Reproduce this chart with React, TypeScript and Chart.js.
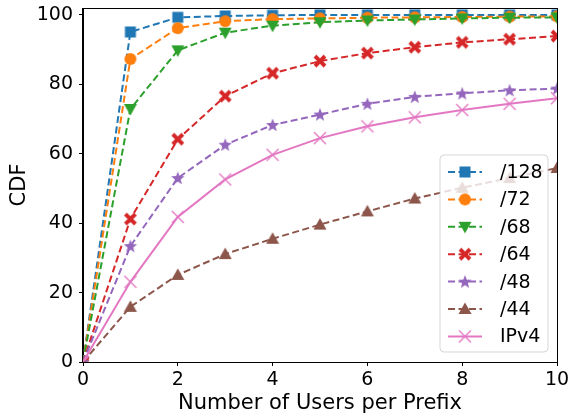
import React, { useEffect, useRef } from "react";
import { Chart, registerables } from "chart.js";

Chart.register(...registerables);

// Number of users per prefix (x) and cumulative share (%) per aggregation level
const users = [0, 1, 2, 3, 4, 5, 6, 7, 8, 9, 10];
const cdf128 = [0, 95.1, 99.3, 99.7, 99.9, 100, 100, 100, 100, 100, 100];
const cdf72 = [0, 87.3, 96.2, 98.2, 98.8, 99.0, 99.2, 99.3, 99.4, 99.5, 99.6];
const cdf68 = [0, 72.9, 89.8, 94.9, 96.9, 97.9, 98.4, 98.7, 99.0, 99.2, 99.3];
const cdf64 = [0, 41.2, 64.2, 76.6, 83.2, 86.7, 89.0, 90.7, 92.1, 93.0, 93.9];
const cdf48 = [0, 33.4, 53.0, 62.6, 68.3, 71.3, 74.4, 76.4, 77.4, 78.3, 78.8];
const cdf44 = [0, 15.9, 25.1, 31.1, 35.5, 39.6, 43.4, 47.1, 50.2, 53.0, 55.9];
const cdfIPv4 = [0, 23.1, 41.8, 52.6, 59.7, 64.5, 67.9, 70.5, 72.6, 74.4, 76.0];

const seriesLabels = ["/128", "/72", "/68", "/64", "/48", "/44", "IPv4"];
const seriesValues = [cdf128, cdf72, cdf68, cdf64, cdf48, cdf44, cdfIPv4];
const seriesColors = ["#1f77b4", "#ff7f0e", "#2ca02c", "#d62728", "#9467bd", "#8c564b", "#e377c2"];
const seriesMarkers = ["square", "circle", "triDown", "xFilled", "star", "triUp", "x"];
const seriesDashed = [true, true, true, true, true, true, false];

const xTicks = [0, 2, 4, 6, 8, 10];
const yTicks = [0, 20, 40, 60, 80, 100];

const FONT = "'DejaVu Sans', sans-serif";

function makeMarker(shape: string, color: string): HTMLCanvasElement {
  const size = 16;
  const c = document.createElement("canvas");
  c.width = size;
  c.height = size;
  const ctx = c.getContext("2d")!;
  const m = size / 2;
  ctx.fillStyle = color;
  ctx.strokeStyle = color;
  ctx.lineJoin = "miter";
  ctx.beginPath();
  if (shape === "square") {
    ctx.rect(m - 5.5, m - 5.5, 11, 11);
    ctx.fill();
  } else if (shape === "circle") {
    ctx.arc(m, m, 6, 0, Math.PI * 2);
    ctx.fill();
  } else if (shape === "triDown") {
    ctx.moveTo(m - 6.5, m - 5);
    ctx.lineTo(m + 6.5, m - 5);
    ctx.lineTo(m, m + 6.5);
    ctx.closePath();
    ctx.fill();
  } else if (shape === "triUp") {
    ctx.moveTo(m - 6.5, m + 5);
    ctx.lineTo(m + 6.5, m + 5);
    ctx.lineTo(m, m - 6.5);
    ctx.closePath();
    ctx.fill();
  } else if (shape === "xFilled") {
    const a = 6.4;
    const w = 2.8;
    ctx.moveTo(m - a + w, m - a);
    ctx.lineTo(m, m - w);
    ctx.lineTo(m + a - w, m - a);
    ctx.lineTo(m + a, m - a + w);
    ctx.lineTo(m + w, m);
    ctx.lineTo(m + a, m + a - w);
    ctx.lineTo(m + a - w, m + a);
    ctx.lineTo(m, m + w);
    ctx.lineTo(m - a + w, m + a);
    ctx.lineTo(m - a, m + a - w);
    ctx.lineTo(m - w, m);
    ctx.lineTo(m - a, m - a + w);
    ctx.closePath();
    ctx.fill();
  } else if (shape === "star") {
    const R = 7;
    const r = 3;
    for (let i = 0; i < 10; i++) {
      const ang = -Math.PI / 2 + (i * Math.PI) / 5;
      const rad = i % 2 === 0 ? R : r;
      const px = m + rad * Math.cos(ang);
      const py = m + 0.5 + rad * Math.sin(ang);
      if (i === 0) ctx.moveTo(px, py);
      else ctx.lineTo(px, py);
    }
    ctx.closePath();
    ctx.fill();
  } else if (shape === "x") {
    ctx.lineWidth = 1.4;
    ctx.moveTo(m - 6, m - 6);
    ctx.lineTo(m + 6, m + 6);
    ctx.moveTo(m + 6, m - 6);
    ctx.lineTo(m - 6, m + 6);
    ctx.stroke();
  }
  return c;
}

export default function App() {
  const canvasRef = useRef<HTMLCanvasElement | null>(null);

  useEffect(() => {
    document.body.style.margin = "0";
    const canvas = canvasRef.current!;
    const markers = seriesMarkers.map((s, i) => makeMarker(s, seriesColors[i]));

    const datasets = seriesLabels.map((label, i) => ({
      label,
      data: users.map((x, j) => ({ x, y: seriesValues[i][j] })),
      borderColor: seriesColors[i],
      backgroundColor: seriesColors[i],
      borderWidth: 2,
      borderDash: seriesDashed[i] ? [7, 3.5] : [],
      pointStyle: markers[i],
      pointRadius: 6,
      pointHoverRadius: 6,
      tension: 0,
      clip: 0,
      order: seriesLabels.length - i,
    }));

    // Frame on top and right of the plot area
    const framePlugin = {
      id: "frame",
      afterDatasetsDraw(chart: any) {
        const { ctx, chartArea: a } = chart;
        ctx.save();
        ctx.strokeStyle = "#000";
        ctx.lineWidth = 1;
        ctx.strokeRect(Math.round(a.left) - 0.5, Math.round(a.top) + 0.5, Math.round(a.right - a.left) + 1, Math.round(a.bottom - a.top));
        ctx.restore();
      },
    };

    // Legend box in the lower-right corner of the plot area
    const legendPlugin = {
      id: "cornerLegend",
      afterDraw(chart: any) {
        const { ctx, chartArea: a } = chart;
        const boxW = 108;
        const rowH = 27.4;
        const boxH = 197;
        const x0 = a.right - 9 - boxW;
        const y0 = a.bottom - 10 - boxH;
        ctx.save();
        ctx.beginPath();
        const r = 4;
        ctx.moveTo(x0 + r, y0);
        ctx.arcTo(x0 + boxW, y0, x0 + boxW, y0 + boxH, r);
        ctx.arcTo(x0 + boxW, y0 + boxH, x0, y0 + boxH, r);
        ctx.arcTo(x0, y0 + boxH, x0, y0, r);
        ctx.arcTo(x0, y0, x0 + boxW, y0, r);
        ctx.closePath();
        ctx.fillStyle = "rgba(255,255,255,0.8)";
        ctx.fill();
        ctx.strokeStyle = "rgba(204,204,204,0.8)";
        ctx.lineWidth = 1;
        ctx.stroke();
        ctx.font = `19px ${FONT}`;
        ctx.textBaseline = "middle";
        ctx.textAlign = "left";
        seriesLabels.forEach((label, i) => {
          const cy = y0 + 17 + i * rowH;
          const lx0 = x0 + 8;
          const lx1 = x0 + 42;
          ctx.beginPath();
          ctx.strokeStyle = seriesColors[i];
          ctx.lineWidth = 2;
          ctx.setLineDash(seriesDashed[i] ? [7, 3.5] : []);
          ctx.moveTo(lx0, cy);
          ctx.lineTo(lx1, cy);
          ctx.stroke();
          ctx.setLineDash([]);
          const mk = markers[i];
          ctx.drawImage(mk, (lx0 + lx1) / 2 - mk.width / 2, cy - mk.height / 2);
          ctx.fillStyle = "#000";
          ctx.fillText(label, x0 + 60, cy + 1);
        });
        ctx.restore();
      },
    };

    const chart = new Chart(canvas, {
      type: "line",
      data: { datasets },
      options: {
        animation: false,
        responsive: false,
        events: [],
        layout: { padding: { top: 8, right: 11, left: 0, bottom: 0 } },
        plugins: {
          legend: { display: false },
          tooltip: { enabled: false },
        },
        scales: {
          x: {
            type: "linear",
            min: 0,
            max: 10,
            afterBuildTicks: (scale: any) => {
              scale.ticks = xTicks.map((v) => ({ value: v }));
            },
            afterFit: (scale: any) => {
              scale.height = 57;
              scale.paddingLeft = 0;
              scale.paddingRight = 0;
            },
            grid: { drawOnChartArea: false, drawTicks: true, tickLength: 4, color: "#000", lineWidth: 1 },
            border: { display: true, color: "#000", width: 1 },
            ticks: { color: "#000", font: { family: FONT, size: 19 }, padding: 3, maxRotation: 0 },
            title: {
              display: true,
              text: "Number of Users per Prefix",
              color: "#000",
              font: { family: FONT, size: 21 },
              padding: { top: 0, bottom: 3 },
            },
          },
          y: {
            type: "linear",
            min: 0,
            max: 102,
            afterBuildTicks: (scale: any) => {
              scale.ticks = yTicks.map((v) => ({ value: v }));
            },
            afterFit: (scale: any) => {
              scale.width = 83;
              scale.paddingTop = 0;
              scale.paddingBottom = 0;
            },
            grid: { drawOnChartArea: false, drawTicks: true, tickLength: 4, color: "#000", lineWidth: 1 },
            border: { display: true, color: "#000", width: 1 },
            ticks: { color: "#000", font: { family: FONT, size: 19 }, padding: 6 },
            title: {
              display: true,
              text: "CDF",
              color: "#000",
              font: { family: FONT, size: 21 },
              padding: { top: 7, bottom: 0 },
            },
          },
        },
      },
      plugins: [framePlugin, legendPlugin],
    } as any);

    return () => chart.destroy();
  }, []);

  return <canvas ref={canvasRef} width={568} height={419} style={{ display: "block" }} />;
}
